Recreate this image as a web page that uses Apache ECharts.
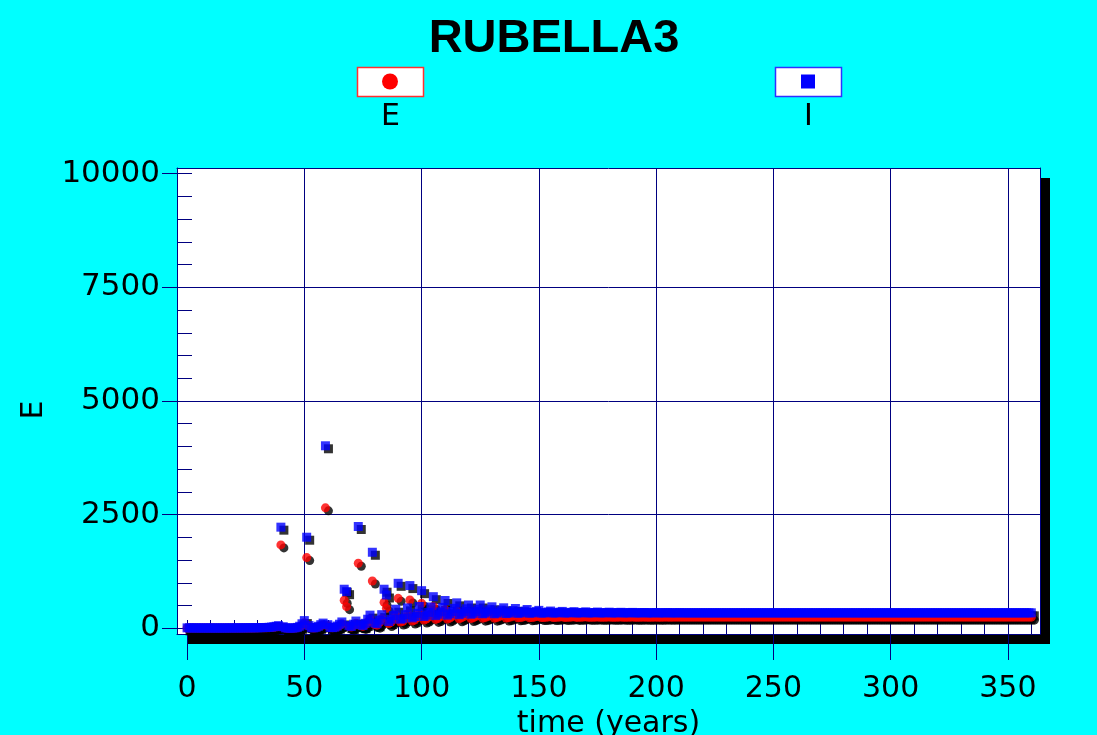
<!DOCTYPE html>
<html><head><meta charset="utf-8">
<script src="https://cdn.jsdelivr.net/npm/echarts@6/dist/echarts.min.js"></script>
<style>html,body{margin:0;padding:0;background:#00ffff;}#c{width:1097px;height:735px;}</style>
</head><body><div id="c"></div>
<script>
// ---- data ----
const chartTitle = 'RUBELLA3';
const seriesNames = ['E', 'I'];
const xAxisName = 'time (years)';
const yAxisName = 'E';
const xLabelValues = [0, 50, 100, 150, 200, 250, 300, 350];
const xGridValues = [50, 100, 150, 200, 250, 300, 350];
const xMinorValues = [0,10,20,30,40,50,60,70,80,90,100,110,120,130,140,150,160,170,180,190,200,210,220,230,240,250,260,270,280,290,300,310,320,330,340,350,360];
const yLabelValues = [0, 2500, 5000, 7500, 10000];
const yGridValues = [2500, 5000, 7500];
const yMinorValues = [0,500,1000,1500,2000,2500,3000,3500,4000,4500,5000,5500,6000,6500,7000,7500,8000,8500,9000,9500,10000];
const firstYear = 0; // samples are one year apart

// I (infectious), years 0..150
const I_early = [
 10,10,9,9,9,8,8,8,8,8,
 8,8,8,8,8,8,8,8,9,9,
 9,9,10,10,10,11,11,12,12,13,
 13,14,15,17,19,22,27,34,45,58,
 2225,35,10,6,5,6,10,20,45,100,
 170,2004,60,15,10,20,45,80,115,4015,
 80,20,15,25,50,90,140,860,806,60,
 40,90,160,2240,80,60,110,200,290,1673,
 120,100,180,300,860,733,150,200,280,420,
 990,200,220,300,450,940,230,260,330,480,
 828,260,290,350,470,696,280,310,360,460,
 612,290,320,370,440,560,300,330,370,430,
 513,310,330,370,420,513,320,335,365,410,
 473,320,335,360,400,451,325,335,355,390,
 436,330,338,352,380,414,332,338,350,372,
 395];
// E (exposed), years 0..150
const E_early = [
 6,6,6,5,5,5,5,5,5,5,
 5,5,5,5,5,5,5,5,6,6,
 6,6,7,7,7,7,8,8,8,9,
 9,10,11,12,13,15,19,24,32,42,
 1835,25,7,4,4,4,7,14,32,70,
 120,1555,42,10,7,14,32,56,80,2650,
 56,14,10,18,35,63,100,617,476,42,
 28,63,112,1430,56,42,77,140,200,1042,
 84,70,126,210,572,440,105,140,196,294,
 660,140,154,210,315,623,160,182,231,336,
 550,182,203,245,329,480,196,217,252,322,
 410,203,224,259,308,380,210,231,259,301,
 350,217,231,259,294,345,224,235,255,287,
 320,224,235,252,280,305,228,235,249,273,
 295,231,237,246,266,280,232,237,245,260,
 268];
// years 151..210
const I_mid = [
 334,338,346,360,380,336,339,345,356,372,
 337,340,344,352,366,338,340,343,350,362,
 338,340,343,348,358,339,340,342,347,355,
 339,340,342,346,352,339,340,342,345,350,
 340,340,341,344,348,340,340,341,343,347,
 340,341,341,343,346,340,341,341,342,344];
const E_mid = [
 236,238,242,250,260,238,240,243,249,257,
 239,241,243,248,254,240,242,243,247,252,
 241,242,243,246,250,242,243,244,246,249,
 242,243,244,245,248,243,243,244,245,247,
 243,244,244,245,246,244,244,244,245,246,
 244,244,245,245,246,244,245,245,245,245];
// years 211..360
const I_late = [
 341,341,341,341,341,341,341,341,341,341,341,341,341,341,341,341,341,341,341,341,341,341,341,341,341,
 341,341,341,341,341,341,341,341,341,341,341,341,341,341,341,341,341,341,341,341,341,341,341,341,341,
 341,341,341,341,341,341,341,341,341,341,341,341,341,341,341,341,341,341,341,341,341,341,341,341,341,
 341,341,341,341,341,341,341,341,341,341,341,341,341,341,341,341,341,341,341,341,341,341,341,341,341,
 341,341,341,341,341,341,341,341,341,341,341,341,341,341,341,341,341,341,341,341,341,341,341,341,341,
 341,341,341,341,341,341,341,341,341,341,341,341,341,341,341,341,341,341,341,341,341,341,341,341,341];
const E_late = [
 245,245,245,245,245,245,245,245,245,245,245,245,245,245,245,245,245,245,245,245,245,245,245,245,245,
 245,245,245,245,245,245,245,245,245,245,245,245,245,245,245,245,245,245,245,245,245,245,245,245,245,
 245,245,245,245,245,245,245,245,245,245,245,245,245,245,245,245,245,245,245,245,245,245,245,245,245,
 245,245,245,245,245,245,245,245,245,245,245,245,245,245,245,245,245,245,245,245,245,245,245,245,245,
 245,245,245,245,245,245,245,245,245,245,245,245,245,245,245,245,245,245,245,245,245,245,245,245,245,
 245,245,245,245,245,245,245,245,245,245,245,245,245,245,245,245,245,245,245,245,245,245,245,245,245];

const I_values = I_early.concat(I_mid, I_late);
const E_values = E_early.concat(E_mid, E_late);
const toPairs = vals => vals.map((v, i) => [firstYear + i, v]);
const E_data = toPairs(E_values);
const I_data = toPairs(I_values);

// ---- styling ----
const TITLE_FONT = "'Liberation Sans', Arial, sans-serif";
const FONT = "'DejaVu Sans', Verdana, sans-serif";
const NAVY = '#000080';
const xMin = -4.3, xMax = 363.7, yMin = -125, yMax = 10125;

function helperAxis(min, max, pos, values, len, inside, showLine) {
  return {
    type: 'value', min: min, max: max, position: pos,
    axisLine: { show: !!showLine, onZero: false, lineStyle: { color: NAVY, width: 1 } },
    axisTick: { show: values.length > 0, inside: inside, customValues: values.length ? values : [min], length: len, lineStyle: { color: NAVY, width: 1 } },
    axisLabel: { show: false },
    splitLine: { show: false }
  };
}

const chart = echarts.init(document.getElementById('c'), null, { renderer: 'canvas' });

chart.setOption({
  backgroundColor: '#00ffff',
  animation: false,
  title: {
    text: chartTitle, left: 549, top: 11, textAlign: 'center',
    textStyle: { fontFamily: TITLE_FONT, fontSize: 47, fontWeight: 'bold', color: '#000' }
  },
  grid: {
    left: 177, right: 57, top: 168, bottom: 101, show: true,
    containLabel: false, outerBoundsMode: 'none',
    backgroundColor: '#ffffff', borderWidth: 0,
    shadowColor: '#000', shadowBlur: 0, shadowOffsetX: 10, shadowOffsetY: 10
  },
  xAxis: [{
    type: 'value', min: xMin, max: xMax, position: 'bottom',
    name: xAxisName, nameLocation: 'middle', nameGap: 72,
    nameTextStyle: { fontFamily: FONT, fontSize: 30, color: '#000' },
    axisLine: { show: true, onZero: false, lineStyle: { color: NAVY } },
    axisTick: { show: false, customValues: xGridValues },
    axisLabel: { customValues: xLabelValues, fontFamily: FONT, fontSize: 30, color: '#000', margin: 40 },
    splitLine: { show: true, lineStyle: { color: NAVY, width: 1 } }
  },
    helperAxis(xMin, xMax, 'bottom', xLabelValues, 26, false, false),
    helperAxis(xMin, xMax, 'bottom', xMinorValues, 14, true, false),
    helperAxis(xMin, xMax, 'top', [], 0, false, true)
  ],
  yAxis: [{
    type: 'value', min: yMin, max: yMax, position: 'left',
    name: yAxisName, nameLocation: 'middle', nameGap: 128,
    nameTextStyle: { fontFamily: FONT, fontSize: 30, color: '#000', padding: [0, 18, 0, 0] },
    axisLine: { show: true, onZero: false, lineStyle: { color: NAVY } },
    axisTick: { show: false, customValues: yGridValues },
    axisLabel: { customValues: yLabelValues, formatter: v => String(v), fontFamily: FONT, fontSize: 31, color: '#000', margin: 17 },
    splitLine: { show: true, lineStyle: { color: NAVY, width: 1 } }
  },
    helperAxis(yMin, yMax, 'left', yLabelValues, 15, false, false),
    helperAxis(yMin, yMax, 'left', yMinorValues, 15, true, false),
    helperAxis(yMin, yMax, 'right', [], 0, false, true)
  ],
  series: [{
    name: seriesNames[0] + ' shadow', type: 'scatter', symbol: 'circle', symbolSize: 9,
    symbolOffset: [3, 3], itemStyle: { color: '#000' }, data: E_data, z: 2, silent: true
  }, {
    name: seriesNames[1] + ' shadow', type: 'scatter', symbol: 'rect', symbolSize: 9,
    symbolOffset: [3, 3], itemStyle: { color: '#000' }, data: I_data, z: 2, silent: true
  }, {
    name: seriesNames[0], type: 'scatter', symbol: 'circle', symbolSize: 9,
    itemStyle: { color: '#ff0000' }, data: E_data, z: 3
  }, {
    name: seriesNames[1], type: 'scatter', symbol: 'rect', symbolSize: 9,
    itemStyle: { color: '#0000ff' }, data: I_data, z: 4
  }],
  graphic: [
    { type: 'rect', shape: { x: 357.5, y: 67.5, width: 66, height: 29 }, style: { fill: '#fff', stroke: '#ff3030', lineWidth: 1.5 } },
    { type: 'circle', shape: { cx: 390, cy: 81.5, r: 8 }, style: { fill: '#ff0000' } },
    { type: 'text', style: { text: seriesNames[0], x: 390.5, y: 117, align: 'center', verticalAlign: 'middle', font: "30px 'DejaVu Sans', Verdana, sans-serif", fill: '#000' } },
    { type: 'rect', shape: { x: 775.5, y: 67.5, width: 66, height: 29 }, style: { fill: '#fff', stroke: '#3030ff', lineWidth: 1.5 } },
    { type: 'rect', shape: { x: 801, y: 74.5, width: 14, height: 14 }, style: { fill: '#0000ff' } },
    { type: 'text', style: { text: seriesNames[1], x: 808.5, y: 117, align: 'center', verticalAlign: 'middle', font: "30px 'DejaVu Sans', Verdana, sans-serif", fill: '#000' } }
  ]
});
</script></body></html>
